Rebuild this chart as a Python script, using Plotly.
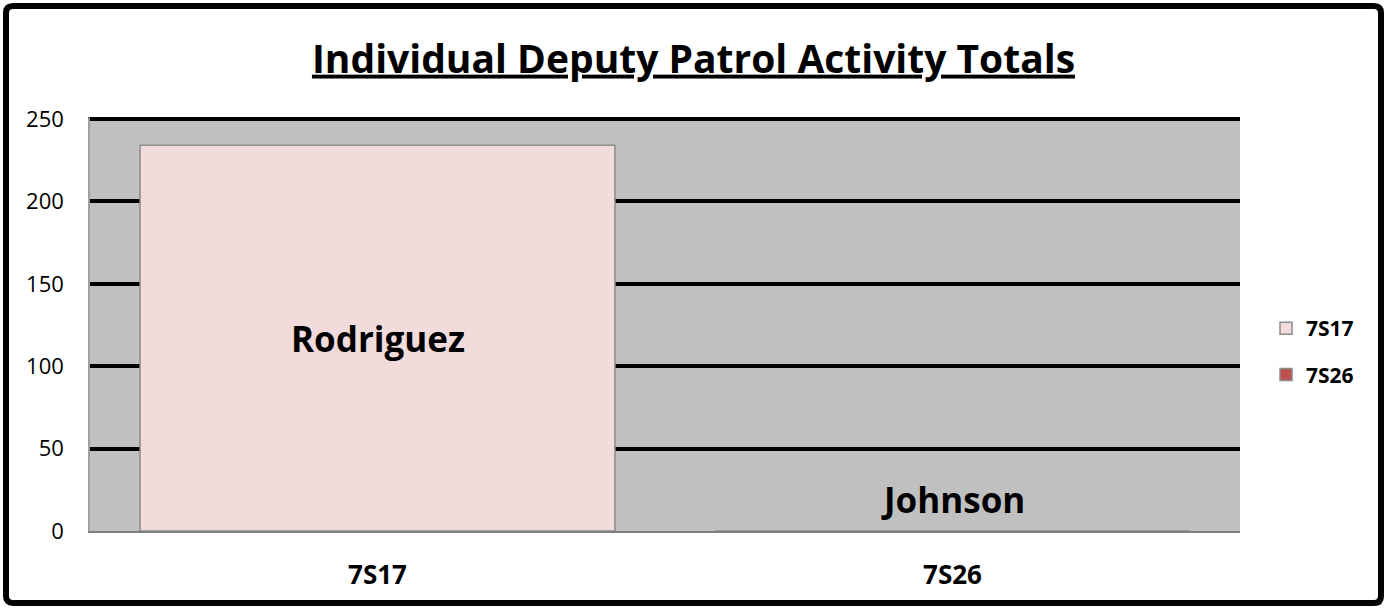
import plotly.graph_objects as go

categories = ["7S17", "7S26"]
values = [234, 0]
deputies = ["Rodriguez", "Johnson"]
colors = ["#F2DCDB", "#C0504D"]
y_ticks = [0, 50, 100, 150, 200, 250]

W, H = 1387, 609
L, R, T, B = 90, 147, 119, 78
pw, ph = W - L - R, H - T - B

fig = go.Figure()
for cat, val, col in zip(categories, values, colors):
    fig.add_trace(go.Bar(
        x=[cat], y=[val], name=cat, legendgroup=cat,
        marker=dict(color=col, line=dict(color="#8C8C8C", width=1.5)),
        width=0.826,
    ))

# data labels
fig.add_annotation(x=categories[0], y=values[0] / 2, text="<b>" + deputies[0] + "</b>",
                   showarrow=False, font=dict(size=35, color="black", family="Open Sans"))
fig.add_annotation(x=categories[1], y=values[1], yshift=32, text="<b>" + deputies[1] + "</b>",
                   showarrow=False, font=dict(size=35, color="black", family="Open Sans"))

# top gridline at 250 (not clipped)
fig.add_shape(type="line", xref="paper", yref="paper", x0=0, x1=1, y0=1, y1=1,
              line=dict(color="black", width=4), layer="above")

def px_x(p):
    return (p - L) / pw

def px_y(p):
    return (H - B - p) / ph

# outer frame with rounded corners
x0, x1, y0, y1 = 6, 1381, 6, 603
r = 7
def P(x, y):
    return f"{px_x(x):.5f},{px_y(y):.5f}"
path = (f"M {P(x0 + r, y0)} L {P(x1 - r, y0)} Q {P(x1, y0)} {P(x1, y0 + r)} "
        f"L {P(x1, y1 - r)} Q {P(x1, y1)} {P(x1 - r, y1)} "
        f"L {P(x0 + r, y1)} Q {P(x0, y1)} {P(x0, y1 - r)} "
        f"L {P(x0, y0 + r)} Q {P(x0, y0)} {P(x0 + r, y0)} Z")
fig.add_shape(type="path", xref="paper", yref="paper", path=path,
              line=dict(color="black", width=6), layer="above")

fig.update_layout(
    width=W, height=H,
    margin=dict(l=L, r=R, t=T, b=B),
    barmode="overlay",
    paper_bgcolor="white",
    plot_bgcolor="#C0C0C0",
    title=dict(text="<b><u>Individual Deputy Patrol Activity Totals</u></b>",
               x=0.5, xanchor="center", y=1 - 59 / H, yanchor="middle",
               font=dict(size=39, color="black", family="Open Sans")),
    font=dict(family="Open Sans", color="black"),
    showlegend=True,
    legend=dict(x=px_x(1266), y=px_y(308), xanchor="left", yanchor="top",
                font=dict(size=21, color="black", family="Open Sans", weight="bold"),
                bgcolor="rgba(0,0,0,0)", traceorder="grouped", tracegroupgap=16,
                itemwidth=30),
    xaxis=dict(type="category", showgrid=False, showline=True, linecolor="#808080",
               linewidth=2, mirror=True, ticks="",
               tickfont=dict(size=26, color="black", family="Open Sans", weight="bold"),
               ticklabelstandoff=20),
    yaxis=dict(range=[0, 250], tickvals=y_ticks, showgrid=True, gridcolor="black",
               gridwidth=4, zeroline=False, showline=True, linecolor="#A0A0A0",
               linewidth=1.5, ticks="", tickfont=dict(size=22, color="black", family="Open Sans"),
               ticklabelstandoff=20),
)

fig.write_html("out.html", config={"displayModeBar": False},
               post_script="document.body.style.margin='0px';")
